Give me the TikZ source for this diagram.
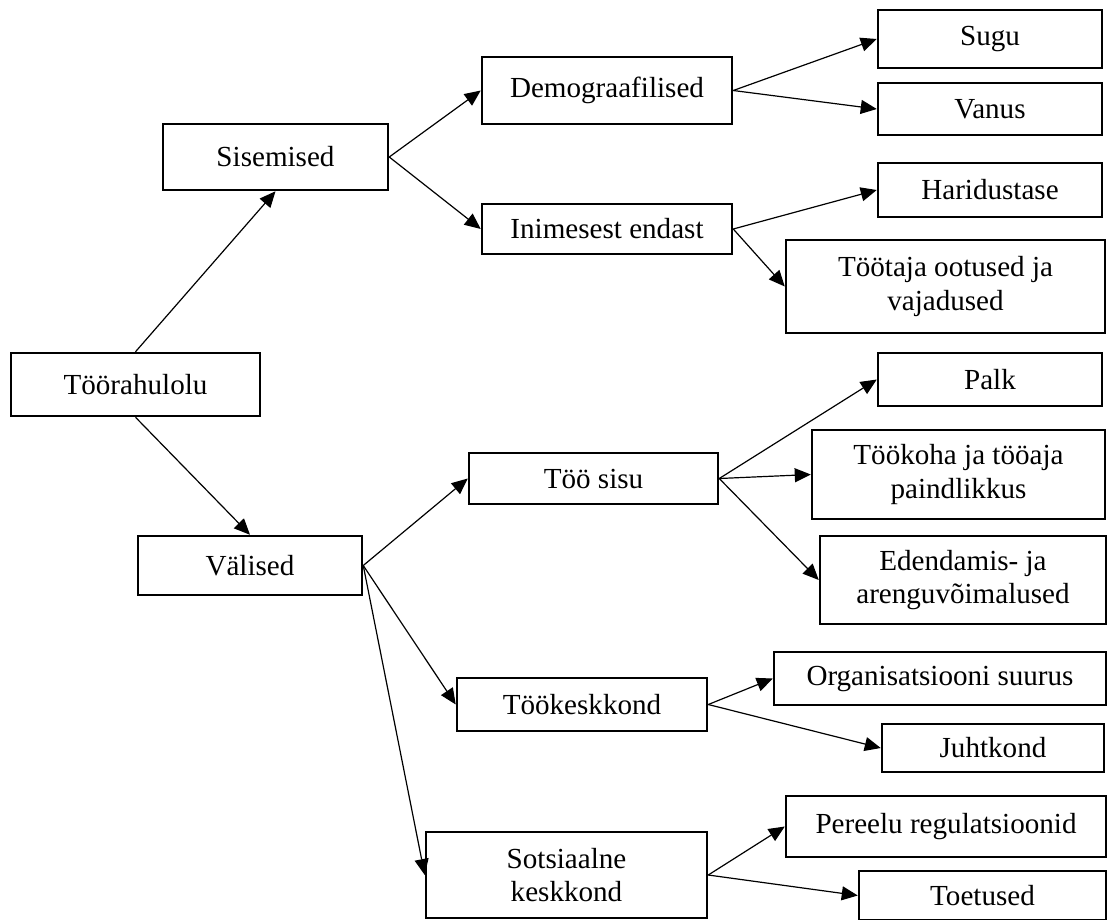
\documentclass[tikz,border=0pt]{standalone}
\usepackage{fontspec}
\setmainfont{Liberation Serif}
\usetikzlibrary{arrows.meta}

\begin{document}
\begin{tikzpicture}[x = 1pt, y = -1pt,
	box/.style = {draw, line width = 2.5pt, align = center, inner sep = 0pt,
		font = \fontsize{29.1}{33.5}\selectfont},
	>={Triangle[length = 16pt, width = 14pt]}]
\useasboundingbox (0,0) rectangle (1107,919);

% tase 1 ja 2
\node [box, minimum width = 249pt, minimum height = 63pt] (rahulolu) at (135.5,384.5) {Töörahulolu};
\node [box, minimum width = 225pt, minimum height = 66pt] (sisemised) at (275.5,157) {Sisemised};
\node [box, minimum width = 224pt, minimum height = 59pt] (valised) at (250,565.5) {Välised};

% tase 3
\node [box, minimum width = 250pt, minimum height = 67pt] (demo) at (607,90.5) {Demograafilised};
\node [box, minimum width = 250pt, minimum height = 50pt] (inimene) at (607,229) {Inimesest endast};
\node [box, minimum width = 249pt, minimum height = 51pt] (sisu) at (593.5,478.5) {Töö sisu};
\node [box, minimum width = 250pt, minimum height = 53pt] (keskkond) at (582,704.5) {Töökeskkond};
\node [box, minimum width = 281pt, minimum height = 86pt] (sotsiaalne) at (566.5,875) {Sotsiaalne\\keskkond};

% tase 4
\node [box, minimum width = 224pt, minimum height = 58pt] (sugu) at (990,39) {Sugu};
\node [box, minimum width = 224pt, minimum height = 52pt] (vanus) at (990,109) {Vanus};
\node [box, minimum width = 224pt, minimum height = 54pt] (haridus) at (990,190) {Haridustase};
\node [box, minimum width = 319pt, minimum height = 93pt] (ootused) at (945.5,286.5) {Töötaja ootused ja\\vajadused};
\node [box, minimum width = 224pt, minimum height = 53pt] (palk) at (990,379.5) {Palk};
\node [box, minimum width = 293pt, minimum height = 89pt] (paindlikkus) at (958.5,474.5) {Töökoha ja tööaja\\paindlikkus};
\node [box, minimum width = 286pt, minimum height = 88pt] (areng) at (963,580) {Edendamis- ja\\arenguvõimalused};
\node [box, minimum width = 332pt, minimum height = 53pt] (suurus) at (940,678.5) {Organisatsiooni suurus};
\node [box, minimum width = 222pt, minimum height = 48pt] (juhtkond) at (993,748) {Juhtkond};
\node [box, minimum width = 320pt, minimum height = 61pt] (pereelu) at (946,826.5) {Pereelu regulatsioonid};
\node [box, minimum width = 247pt, minimum height = 49pt] (toetused) at (982.5,895.5) {Toetused};

% nooled
\draw [->, line width = 1.2pt] (rahulolu.north) -- (sisemised.south);
\draw [->, line width = 1.2pt] (rahulolu.south) -- (valised.north);
\foreach \a/\b in {sisemised/demo, sisemised/inimene, valised/sisu, valised/keskkond,
		valised/sotsiaalne, demo/sugu, demo/vanus, inimene/haridus, inimene/ootused,
		sisu/palk, sisu/paindlikkus, sisu/areng, keskkond/suurus, keskkond/juhtkond,
		sotsiaalne/pereelu, sotsiaalne/toetused}
\draw [->, line width = 1.2pt] (\a.east) -- (\b.west);
\end{tikzpicture}
\end{document}
